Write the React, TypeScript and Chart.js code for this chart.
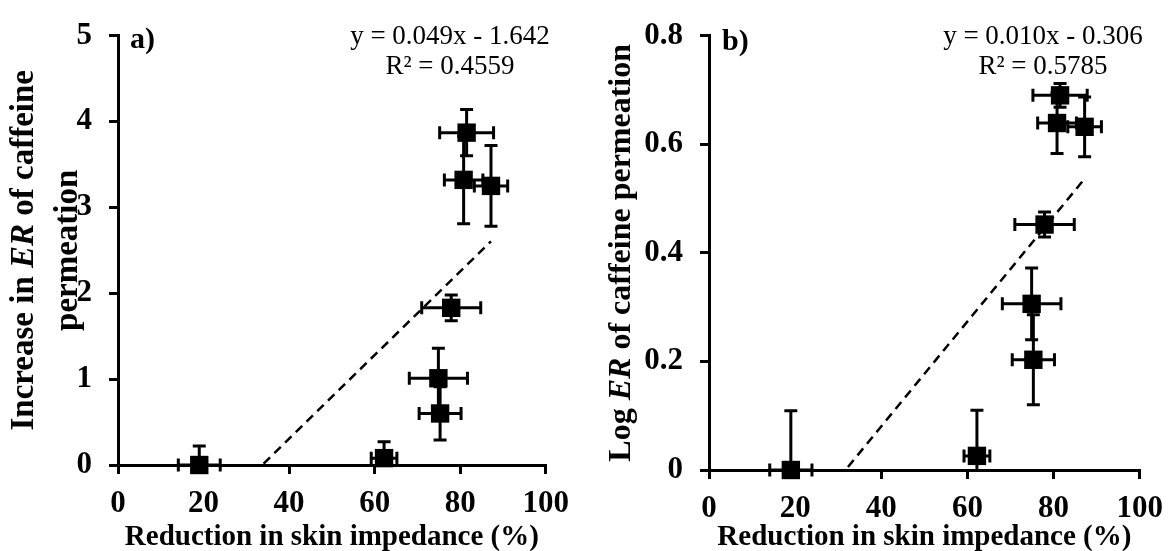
import React, { useEffect, useRef } from 'react';
import { Chart, registerables } from 'chart.js';

Chart.register(...registerables);

// Reduction in skin impedance (%) and its error, shared by both panels
const reduction = [19.0, 62.2, 75.3, 74.9, 77.9, 81.5, 80.8, 87.2];
const reductionErr = [4.9, 3.0, 4.9, 6.8, 6.9, 6.3, 4.5, 3.9];

// Panel a: increase in ER of caffeine permeation
const erIncrease = [0, 0.08, 0.6, 1.01, 1.83, 3.87, 3.32, 3.25];
const erIncreaseErr = [0.22, 0.19, 0.31, 0.35, 0.15, 0.27, 0.51, 0.47];

// Panel b: log ER of caffeine permeation
const logEr = [0, 0.026, 0.203, 0.306, 0.452, 0.69, 0.639, 0.632];
const logErErr = [0.109, 0.084, 0.083, 0.066, 0.023, 0.022, 0.056, 0.055];

const xTicks = [0, 20, 40, 60, 80, 100];
const yTicksA = [0, 1, 2, 3, 4, 5];
const yTicksB = [0, 0.2, 0.4, 0.6, 0.8];

// Linear trend lines (coefficients behind the printed equations)
const trendA = { slope: 0.0487, intercept: -1.642 };
const trendB = { slope: 0.00966, intercept: -0.306 };

const equationA = ['y = 0.049x - 1.642', 'R² = 0.4559'];
const equationB = ['y = 0.010x - 0.306', 'R² = 0.5785'];

const xTitle = 'Reduction in skin impedance (%)';

type Seg = { text: string; italic?: boolean };

const yTitleA: Seg[][] = [
  [{ text: 'Increase in ' }, { text: 'ER', italic: true }, { text: ' of caffeine' }],
  [{ text: 'permeation' }],
];
const yTitleB: Seg[][] = [
  [{ text: 'Log ' }, { text: 'ER', italic: true }, { text: ' of caffeine permeation' }],
];

const FAMILY = '"Liberation Serif", "Times New Roman", serif';
const HEIGHT = 551;
const TICK_SIZE = 31;

interface PanelSpec {
  left: number;
  width: number;
  area: { left: number; right: number; top: number; bottom: number };
  values: number[];
  errors: number[];
  yTicks: number[];
  trend: { slope: number; intercept: number };
  yTitle: Seg[][];
  yTitleX: number[];
  yTitleSize: number;
  tag: string;
  tagPos: [number, number];
  equation: string[];
  equationX: number;
}

const panels: PanelSpec[] = [
  {
    left: 0,
    width: 580,
    area: { left: 118, right: 552, top: 28, bottom: 465 },
    values: erIncrease,
    errors: erIncreaseErr,
    yTicks: yTicksA,
    trend: trendA,
    yTitle: yTitleA,
    yTitleX: [24, 68],
    yTitleSize: 33,
    tag: 'a)',
    tagPos: [130, 40],
    equation: equationA,
    equationX: 450,
  },
  {
    left: 590,
    width: 584,
    area: { left: 119, right: 558, top: 30, bottom: 470 },
    values: logEr,
    errors: logErErr,
    yTicks: yTicksB,
    trend: trendB,
    yTitle: yTitleB,
    yTitleX: [32],
    yTitleSize: 32,
    tag: 'b)',
    tagPos: [132, 42],
    equation: equationB,
    equationX: 453,
  },
];

function drawSegments(ctx: CanvasRenderingContext2D, segs: Seg[], size: number, weight = 'bold') {
  const fontFor = (s: Seg) => `${s.italic ? 'italic ' : ''}${weight} ${size}px ${FAMILY}`;
  let total = 0;
  const widths = segs.map((s) => {
    ctx.font = fontFor(s);
    const w = ctx.measureText(s.text).width;
    total += w;
    return w;
  });
  let x = -total / 2;
  segs.forEach((s, i) => {
    ctx.font = fontFor(s);
    ctx.fillText(s.text, x, 0);
    x += widths[i];
  });
}

function makeChart(canvas: HTMLCanvasElement, spec: PanelSpec) {
  const minX = Math.min(...reduction);
  const maxX = Math.max(...reduction);
  const trendLine = [minX, maxX].map((x) => ({ x, y: spec.trend.slope * x + spec.trend.intercept }));

  const errorBars = {
    id: 'errorBars',
    beforeDatasetsDraw(chart: any) {
      const { ctx, chartArea } = chart;
      const xs = chart.scales.x;
      const ys = chart.scales.y;
      const cap = 6.5;
      ctx.save();
      ctx.strokeStyle = '#000';
      ctx.lineWidth = 3;
      ctx.lineCap = 'butt';
      // horizontal bars
      reduction.forEach((xv, i) => {
        const y = ys.getPixelForValue(spec.values[i]);
        const x1 = xs.getPixelForValue(xv - reductionErr[i]);
        const x2 = xs.getPixelForValue(xv + reductionErr[i]);
        ctx.beginPath();
        ctx.moveTo(x1, y);
        ctx.lineTo(x2, y);
        ctx.moveTo(x1, y - cap);
        ctx.lineTo(x1, y + cap);
        ctx.moveTo(x2, y - cap);
        ctx.lineTo(x2, y + cap);
        ctx.stroke();
      });
      // vertical bars, kept inside the plot area
      ctx.beginPath();
      ctx.rect(chartArea.left, chartArea.top - 2, chartArea.right - chartArea.left, chartArea.bottom - chartArea.top + 2);
      ctx.clip();
      reduction.forEach((xv, i) => {
        const x = xs.getPixelForValue(xv);
        const y1 = ys.getPixelForValue(spec.values[i] - spec.errors[i]);
        const y2 = ys.getPixelForValue(spec.values[i] + spec.errors[i]);
        ctx.beginPath();
        ctx.moveTo(x, y1);
        ctx.lineTo(x, y2);
        ctx.moveTo(x - cap, y1);
        ctx.lineTo(x + cap, y1);
        ctx.moveTo(x - cap, y2);
        ctx.lineTo(x + cap, y2);
        ctx.stroke();
      });
      ctx.restore();
    },
  };

  const annotations = {
    id: 'annotations',
    afterDraw(chart: any) {
      const { ctx, chartArea } = chart;
      ctx.save();
      ctx.fillStyle = '#000';
      ctx.textBaseline = 'middle';
      ctx.textAlign = 'left';

      // y-axis title (rotated)
      spec.yTitle.forEach((line, i) => {
        ctx.save();
        ctx.translate(spec.yTitleX[i], (chartArea.top + chartArea.bottom) / 2);
        ctx.rotate(-Math.PI / 2);
        drawSegments(ctx, line, spec.yTitleSize);
        ctx.restore();
      });

      // x-axis title
      ctx.save();
      ctx.translate((chartArea.left + chartArea.right) / 2, 538);
      drawSegments(ctx, [{ text: xTitle }], 29);
      ctx.restore();

      // panel tag
      ctx.font = `bold 30px ${FAMILY}`;
      ctx.textAlign = 'left';
      ctx.fillText(spec.tag, spec.tagPos[0], spec.tagPos[1]);

      // trend equation
      ctx.font = `27px ${FAMILY}`;
      ctx.textAlign = 'center';
      ctx.fillText(spec.equation[0], spec.equationX, 37);
      ctx.fillText(spec.equation[1], spec.equationX, 67);
      ctx.restore();
    },
  };

  const axisCommon = {
    border: { display: true, color: '#000', width: 3 },
    grid: {
      display: true,
      drawOnChartArea: false,
      drawTicks: true,
      tickLength: 9,
      color: '#000',
      lineWidth: 3,
    },
  };

  return new Chart(canvas, {
    type: 'scatter',
    data: {
      datasets: [
        {
          label: 'data',
          data: reduction.map((x, i) => ({ x, y: spec.values[i] })),
          pointStyle: 'rect',
          pointRadius: 13,
          pointHoverRadius: 13,
          backgroundColor: '#000',
          borderColor: '#000',
          borderWidth: 0,
          clip: false as any,
        },
        {
          type: 'line' as any,
          label: 'trend',
          data: trendLine,
          borderColor: '#000',
          borderWidth: 2.5,
          borderDash: [9, 6],
          pointRadius: 0,
          fill: false,
          clip: 1 as any,
        },
      ],
    },
    options: {
      responsive: false,
      animation: false,
      layout: {
        padding: {
          top: spec.area.top,
          right: spec.width - spec.area.right,
          bottom: 0,
          left: 0,
        },
      },
      plugins: {
        legend: { display: false },
        tooltip: { enabled: false },
      },
      scales: {
        x: {
          type: 'linear',
          min: xTicks[0],
          max: xTicks[xTicks.length - 1],
          ...axisCommon,
          afterBuildTicks: (scale: any) => {
            scale.ticks = xTicks.map((v) => ({ value: v }));
          },
          afterFit: (scale: any) => {
            scale.height = HEIGHT - spec.area.bottom;
          },
          ticks: {
            color: '#000',
            font: { family: FAMILY, size: TICK_SIZE, weight: 'bold' },
            padding: 11,
            maxRotation: 0,
            autoSkip: false,
            callback: (v: any) => `${Number(v)}`,
          },
        },
        y: {
          type: 'linear',
          min: spec.yTicks[0],
          max: spec.yTicks[spec.yTicks.length - 1],
          ...axisCommon,
          afterBuildTicks: (scale: any) => {
            scale.ticks = spec.yTicks.map((v) => ({ value: v }));
          },
          afterFit: (scale: any) => {
            scale.width = spec.area.left;
          },
          ticks: {
            color: '#000',
            font: { family: FAMILY, size: TICK_SIZE, weight: 'bold' },
            padding: 17,
            autoSkip: false,
            callback: (v: any) => `${Number(Number(v).toFixed(1))}`,
          },
        },
      },
    } as any,
    plugins: [errorBars, annotations],
  });
}

function Panel({ spec }: { spec: PanelSpec }) {
  const ref = useRef<HTMLCanvasElement | null>(null);
  useEffect(() => {
    if (!ref.current) return;
    const chart = makeChart(ref.current, spec);
    return () => chart.destroy();
  }, [spec]);
  return (
    <canvas
      ref={ref}
      width={spec.width}
      height={HEIGHT}
      style={{ position: 'absolute', left: spec.left, top: 0, width: spec.width, height: HEIGHT }}
    />
  );
}

export default function App() {
  return (
    <div
      style={{
        position: 'fixed',
        left: 0,
        top: 0,
        width: 1174,
        height: HEIGHT,
        background: '#fff',
        overflow: 'hidden',
      }}
    >
      {panels.map((p) => (
        <Panel key={p.tag} spec={p} />
      ))}
    </div>
  );
}
